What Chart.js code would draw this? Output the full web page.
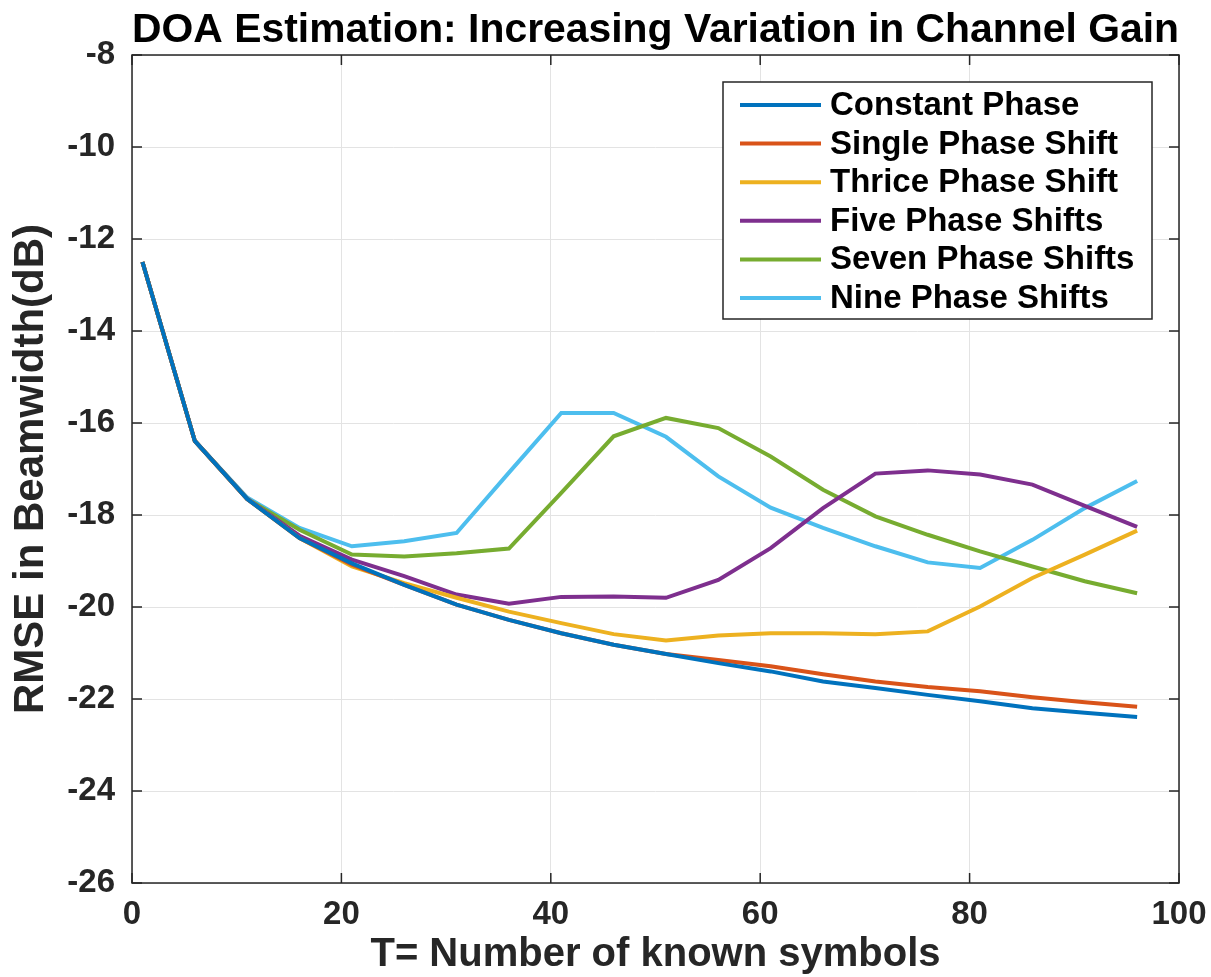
<!DOCTYPE html>
<html>
<head>
<meta charset="utf-8">
<script src="https://cdn.jsdelivr.net/npm/chart.js@4"></script>
<style>
  html, body { margin: 0; padding: 0; background: #fff; }
  #wrap { width: 1211px; height: 977px; }
</style>
</head>
<body>
<div id="wrap"><canvas id="chart" width="1211" height="977"></canvas></div>
<script>
// valores (T = 1, 6, 11, ..., 96)
const symbols = [1, 6, 11, 16, 21, 26, 31, 36, 41, 46, 51, 56, 61, 66, 71, 76, 81, 86, 91, 96];
const constantPhase = [-12.5, -16.39, -17.65, -18.5, -19.05, -19.52, -19.95, -20.28, -20.57, -20.82, -21.02, -21.22, -21.4, -21.62, -21.76, -21.91, -22.05, -22.2, -22.3, -22.39];
const singleShift = [-12.5, -16.39, -17.65, -18.5, -19.08, -19.52, -19.95, -20.28, -20.57, -20.82, -21.02, -21.15, -21.29, -21.46, -21.62, -21.74, -21.83, -21.96, -22.07, -22.17];
const thriceShift = [-12.5, -16.39, -17.65, -18.5, -19.12, -19.48, -19.8, -20.1, -20.35, -20.59, -20.73, -20.62, -20.57, -20.57, -20.59, -20.53, -19.99, -19.37, -18.86, -18.34];
const fiveShifts = [-12.5, -16.39, -17.65, -18.45, -18.97, -19.33, -19.73, -19.93, -19.78, -19.77, -19.8, -19.41, -18.72, -17.85, -17.1, -17.03, -17.12, -17.34, -17.8, -18.26];
const sevenShifts = [-12.5, -16.39, -17.65, -18.32, -18.86, -18.9, -18.83, -18.73, -17.52, -16.29, -15.89, -16.11, -16.73, -17.45, -18.03, -18.43, -18.79, -19.12, -19.44, -19.7];
const nineShifts = [-12.5, -16.39, -17.62, -18.28, -18.68, -18.57, -18.39, -17.08, -15.78, -15.78, -16.3, -17.16, -17.84, -18.28, -18.68, -19.03, -19.15, -18.54, -17.85, -17.26];

const seriesNames = ['Constant Phase', 'Single Phase Shift', 'Thrice Phase Shift', 'Five Phase Shifts', 'Seven Phase Shifts', 'Nine Phase Shifts'];
const seriesData = [constantPhase, singleShift, thriceShift, fiveShifts, sevenShifts, nineShifts];
const seriesColors = ['#0072BD', '#D95319', '#EDB120', '#7E2F8E', '#77AC30', '#4DBEEE'];

const xTicks = [0, 20, 40, 60, 80, 100];
const yTicks = [-26, -24, -22, -20, -18, -16, -14, -12, -10, -8];

const FONT = "'Liberation Sans', Arial, Helvetica, sans-serif";
const INK = '#262626';

// moldura estilo MATLAB com marcas para dentro
const framePlugin = {
    id: 'frame',
    afterDatasetsDraw(chart) {
        const ctx = chart.ctx;
        const a = chart.chartArea;
        const xs = chart.scales.x, ys = chart.scales.y;
        ctx.save();
        ctx.strokeStyle = INK;
        ctx.lineWidth = 1.5;
        ctx.beginPath();
        xTicks.forEach(v => {
            const px = xs.getPixelForValue(v);
            ctx.moveTo(px, a.bottom); ctx.lineTo(px, a.bottom - 10);
            ctx.moveTo(px, a.top); ctx.lineTo(px, a.top + 10);
        });
        yTicks.forEach(v => {
            const py = ys.getPixelForValue(v);
            ctx.moveTo(a.left, py); ctx.lineTo(a.left + 10, py);
            ctx.moveTo(a.right, py); ctx.lineTo(a.right - 10, py);
        });
        ctx.stroke();
        ctx.strokeRect(a.left, a.top, a.right - a.left, a.bottom - a.top);
        ctx.restore();
    }
};

// legenda dentro da área do gráfico (canto superior direito)
const legendPlugin = {
    id: 'insideLegend',
    afterDraw(chart) {
        const ctx = chart.ctx;
        const x0 = 723, y0 = 82, w = 429, h = 237;
        ctx.save();
        ctx.fillStyle = '#fff';
        ctx.fillRect(x0, y0, w, h);
        ctx.strokeStyle = INK;
        ctx.lineWidth = 1.5;
        ctx.strokeRect(x0, y0, w, h);
        ctx.font = 'bold 33px ' + FONT;
        ctx.textBaseline = 'middle';
        chart.data.datasets.forEach((ds, i) => {
            const y = y0 + 23 + i * 38.6;
            ctx.strokeStyle = ds.borderColor;
            ctx.lineWidth = 4;
            ctx.beginPath();
            ctx.moveTo(x0 + 17, y); ctx.lineTo(x0 + 98, y);
            ctx.stroke();
            ctx.fillStyle = '#000';
            ctx.fillText(ds.label, x0 + 107, y + 1);
        });
        ctx.restore();
    }
};

new Chart(document.getElementById('chart'), {
    type: 'line',
    data: {
        datasets: seriesNames.map((name, i) => ({
            label: name,
            data: symbols.map((t, k) => ({ x: t, y: seriesData[i][k] })),
            borderColor: seriesColors[i],
            backgroundColor: seriesColors[i],
            borderWidth: 4,
            pointRadius: 0,
            tension: 0
        }))
    },
    options: {
        responsive: false,
        animation: false,
        layout: { padding: 0 },
        plugins: {
            legend: { display: false },
            tooltip: { enabled: false },
            title: {
                display: true,
                fullSize: false,
                text: 'DOA Estimation: Increasing Variation in Channel Gain',
                color: '#000',
                font: { family: FONT, size: 41, weight: 'bold', lineHeight: 1 },
                padding: { top: 10, bottom: 4 }
            }
        },
        scales: {
            x: {
                type: 'linear',
                min: 0, max: 100,
                afterBuildTicks: s => { s.ticks = xTicks.map(v => ({ value: v })); },
                afterFit: s => { s.height = 94; s.paddingLeft = 0; s.paddingRight = 32; },
                grid: { color: '#e3e3e3', lineWidth: 1, drawTicks: false },
                border: { display: false },
                ticks: { color: INK, padding: 12, font: { family: FONT, size: 33, weight: 'bold' } },
                title: {
                    display: true,
                    text: 'T= Number of known symbols',
                    color: INK,
                    font: { family: FONT, size: 40, weight: 'bold' },
                    padding: { top: 0, bottom: -2 }
                }
            },
            y: {
                min: -26, max: -8,
                afterBuildTicks: s => { s.ticks = yTicks.map(v => ({ value: v })); },
                afterFit: s => { s.width = 132; },
                grid: { color: '#e3e3e3', lineWidth: 1, drawTicks: false },
                border: { display: false },
                ticks: { color: INK, padding: 17, font: { family: FONT, size: 33, weight: 'bold' } },
                title: {
                    display: true,
                    text: 'RMSE in Beamwidth(dB)',
                    color: INK,
                    font: { family: FONT, size: 42, weight: 'bold' },
                    padding: { top: 6 }
                }
            }
        }
    },
    plugins: [framePlugin, legendPlugin]
});
</script>
</body>
</html>
